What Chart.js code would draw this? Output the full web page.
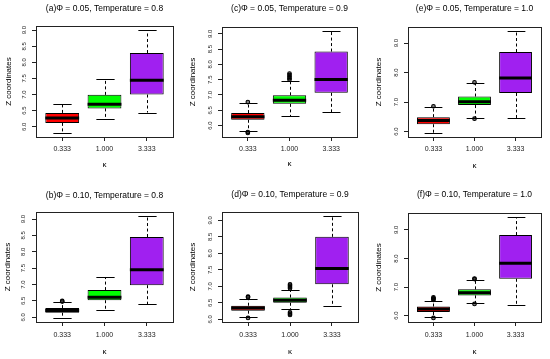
<!DOCTYPE html>
<html><head><meta charset="utf-8">
<script src="https://cdn.jsdelivr.net/npm/chart.js@4/dist/chart.umd.min.js"></script>
<style>
body{margin:0;background:#fff;width:550px;height:359px;position:relative;overflow:hidden}
canvas{position:absolute}
</style></head><body>
<canvas id="pa" width="183" height="180" style="left:0;top:0"></canvas>
<canvas id="pc" width="183" height="180" style="left:183px;top:0"></canvas>
<canvas id="pe" width="184" height="180" style="left:366px;top:0"></canvas>
<canvas id="pb" width="183" height="179" style="left:0;top:180px"></canvas>
<canvas id="pd" width="183" height="179" style="left:183px;top:180px"></canvas>
<canvas id="pf" width="184" height="179" style="left:366px;top:180px"></canvas>
<script>
// ---------------- data ----------------
const kappa = ['0.333', '1.000', '3.333'];
const titles = {
  a: '(a)\u03A6 = 0.05, Temperature = 0.8',
  c: '(c)\u03A6 = 0.05, Temperature = 0.9',
  e: '(e)\u03A6 = 0.05, Temperature = 1.0',
  b: '(b)\u03A6 = 0.10, Temperature = 0.8',
  d: '(d)\u03A6 = 0.10, Temperature = 0.9',
  f: '(f)\u03A6 = 0.10, Temperature = 1.0'
};
// each row: [lower whisker, Q1, median, Q3, upper whisker] for kappa 0.333, 1.000, 3.333
const statsA = [[5.81, 6.12, 6.27, 6.43, 6.72], [6.23, 6.57, 6.70, 6.99, 7.49], [6.44, 7.00, 7.44, 8.29, 9.00]];
const outA = [[], [], []];
const statsC = [[5.83, 6.19, 6.29, 6.41, 6.74], [6.30, 6.71, 6.83, 6.99, 7.45], [6.43, 7.07, 7.51, 8.42, 9.09]];
const outC = [[5.76, 5.79, 6.77], [7.50, 7.55, 7.60, 7.65, 7.70], []];
const statsE = [[5.955, 6.25, 6.38, 6.49, 6.84], [6.46, 6.90, 7.01, 7.19, 7.64], [6.45, 7.31, 7.82, 8.70, 9.41]];
const outE = [[6.86], [6.44, 7.67], []];
const statsB = [[5.98, 6.14, 6.21, 6.28, 6.46], [6.21, 6.52, 6.61, 6.83, 7.23], [6.39, 6.98, 7.45, 8.45, 9.09]];
const outB = [[6.48, 6.50], [], []];
const statsD = [[6.08, 6.26, 6.34, 6.41, 6.62], [6.30, 6.50, 6.58, 6.66, 6.89], [6.40, 7.06, 7.54, 8.50, 9.13]];
const outD = [[6.04, 6.67, 6.69], [6.13, 6.17, 6.21, 6.94, 6.98, 7.02, 7.06], []];
const statsF = [[5.95, 6.13, 6.23, 6.32, 6.50], [6.43, 6.71, 6.80, 6.92, 7.25], [6.39, 7.29, 7.83, 8.82, 9.45]];
const outF = [[5.92, 6.55, 6.58, 6.61, 6.64], [6.41, 7.28, 7.30], []];
const yTicksHalf = [6.0, 6.5, 7.0, 7.5, 8.0, 8.5, 9.0];
const yTicksWhole = [6.0, 7.0, 8.0, 9.0];

// ---------------- styles / layout ----------------
const FONT = "'Liberation Sans', Arial, Helvetica, sans-serif";
const boxColors = ['#FF0000', '#00FF00', '#A020F0'];
const TL = 4;          // tick length
const TITLE_FS = 8.5, AX_FS = 8, XT_FS = 7, YT_FS = 6;

const rbox = {
  id: 'rbox',
  afterDatasetsDraw(chart, args, opts) {
    const {ctx, chartArea: a, scales: {x, y}} = chart;
    const meta = chart.getDatasetMeta(0);
    const ln = (x1, y1, x2, y2) => { ctx.beginPath(); ctx.moveTo(x1, y1); ctx.lineTo(x2, y2); ctx.stroke(); };
    ctx.save();
    ctx.strokeStyle = '#000';
    opts.stats.forEach((s, i) => {
      const bar = meta.data[i];
      const w = bar.width;
      const cx = Math.round(x.getPixelForValue(i + 1)) + 0.5;
      const [lo, q1, md, q3, hi] = s.map(v => y.getPixelForValue(v));
      ctx.lineWidth = 1;
      ctx.setLineDash([3, 2.5]);
      ln(cx, q3, cx, hi);
      ln(cx, q1, cx, lo);
      ctx.setLineDash([]);
      ln(cx - w * 0.27, Math.round(hi) + 0.5, cx + w * 0.27, Math.round(hi) + 0.5);
      ln(cx - w * 0.27, Math.round(lo) + 0.5, cx + w * 0.27, Math.round(lo) + 0.5);
      ctx.lineWidth = 3;
      ln(bar.x - w / 2, md, bar.x + w / 2, md);
    });
    ctx.lineWidth = 1;
    ctx.strokeStyle = '#222';
    ctx.strokeRect(Math.round(a.left) + 0.5, Math.round(a.top) + 0.5,
                   Math.round(a.right - a.left), Math.round(a.bottom - a.top));
    ctx.restore();
  }
};

function makePanel(id, title, stats, outliers, yTicks, g) {
  const all = stats.flat().concat(outliers.flat());
  const lo = Math.min(...all), hi = Math.max(...all);
  const ext = (hi - lo) * 0.04;
  const tLH = TITLE_FS * 1.2, aLH = AX_FS * 1.2;
  const widest = YT_FS * 1.39;
  new Chart(document.getElementById(id), {
    type: 'bar',
    data: {
      datasets: [
        {
          type: 'bar',
          data: stats.map((s, i) => ({x: i + 1, y: [s[1], s[3]]})),
          backgroundColor: boxColors,
          borderColor: '#000',
          borderWidth: 1,
          borderSkipped: false,
          barPercentage: 0.8,
          categoryPercentage: 1,
          order: 2
        },
        {
          type: 'scatter',
          data: outliers.flatMap((arr, i) => arr.map(v => ({x: i + 1, y: v}))),
          pointRadius: 1.8,
          pointBorderWidth: 1.1,
          borderColor: '#000',
          backgroundColor: 'rgba(0,0,0,0.5)',
          order: 1
        }
      ]
    },
    options: {
      responsive: false,
      animation: false,
      events: [],
      layout: {padding: {left: 0, right: g.W - g.R, top: 0, bottom: 0}},
      plugins: {
        legend: {display: false},
        tooltip: {enabled: false},
        title: {
          display: true, text: title, fullSize: false, color: '#000',
          font: {family: FONT, size: TITLE_FS, weight: 'normal'},
          padding: {top: g.titleY - tLH / 2, bottom: g.T - g.titleY - tLH / 2}
        },
        rbox: {stats: stats}
      },
      scales: {
        x: {
          type: 'linear', min: 0.38, max: 3.62, offset: false,
          afterBuildTicks: s => { s.ticks = kappa.map((k, i) => ({value: i + 1})); },
          afterFit: s => { s.height = g.H - g.B; },
          ticks: {
            autoSkip: false, maxRotation: 0, minRotation: 0,
            callback: (v, i) => kappa[i],
            font: {family: FONT, size: XT_FS}, color: '#222',
            padding: g.xLabY - g.B - TL - XT_FS * 0.6
          },
          grid: {drawOnChartArea: false, offset: false, tickLength: TL, tickColor: '#222', tickWidth: 1},
          border: {display: false},
          title: {
            display: true, text: '\u03BA', color: '#000',
            font: {family: FONT, size: AX_FS},
            padding: {top: 0, bottom: g.H - g.kY - aLH / 2}
          }
        },
        y: {
          min: lo - ext, max: hi + ext,
          afterBuildTicks: s => { s.ticks = yTicks.map(v => ({value: v})); },
          afterFit: s => { s.width = g.L; },
          ticks: {
            minRotation: 90, maxRotation: 90, crossAlign: 'center',
            callback: v => v.toFixed(1),
            font: {family: FONT, size: YT_FS}, color: '#222',
            padding: g.L - TL - widest / 2 - g.yLabX
          },
          grid: {drawOnChartArea: false, tickLength: TL, tickColor: '#222', tickWidth: 1},
          border: {display: false},
          title: {
            display: true, text: 'Z coordinates', color: '#000',
            font: {family: FONT, size: AX_FS},
            padding: {top: g.yTitX - aLH / 2, bottom: 0}
          }
        }
      }
    },
    plugins: [rbox]
  });
}

makePanel('pa', titles.a, statsA, outA, yTicksHalf,
  {W: 183, H: 180, L: 36, R: 173, T: 26, B: 137, titleY: 9, yTitX: 8.5, yLabX: 24, xLabY: 149.3, kY: 164.3});
makePanel('pc', titles.c, statsC, outC, yTicksHalf,
  {W: 183, H: 180, L: 39, R: 174, T: 27, B: 137, titleY: 9, yTitX: 10, yLabX: 27.3, xLabY: 149.3, kY: 164});
makePanel('pe', titles.e, statsE, outE, yTicksWhole,
  {W: 184, H: 180, L: 42, R: 175, T: 27, B: 137, titleY: 9, yTitX: 12.7, yLabX: 30, xLabY: 149, kY: 165.5});
makePanel('pb', titles.b, statsB, outB, yTicksHalf,
  {W: 183, H: 179, L: 36, R: 173, T: 32, B: 142, titleY: 15.7, yTitX: 8, yLabX: 23.5, xLabY: 155, kY: 171.7});
makePanel('pd', titles.d, statsD, outD, yTicksHalf,
  {W: 183, H: 179, L: 39, R: 175, T: 32, B: 142, titleY: 15, yTitX: 10, yLabX: 27.3, xLabY: 155, kY: 171.7});
makePanel('pf', titles.f, statsF, outF, yTicksWhole,
  {W: 184, H: 179, L: 42, R: 175, T: 33, B: 142, titleY: 15, yTitX: 12.7, yLabX: 30, xLabY: 155, kY: 172});
</script>
</body></html>
